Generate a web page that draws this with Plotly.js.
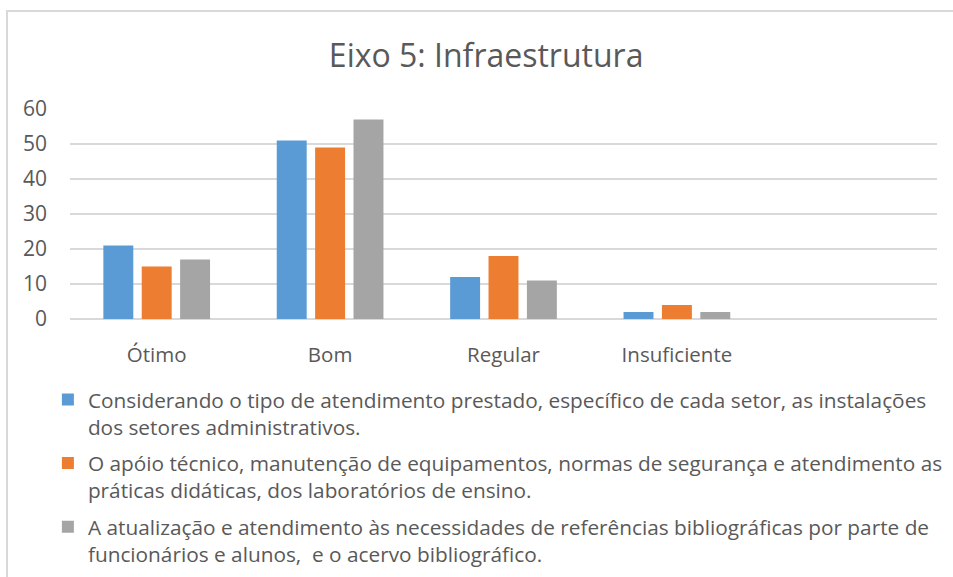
<!DOCTYPE html>
<html>
<head>
<meta charset="utf-8">
<script src="https://cdn.plot.ly/plotly-3.0.1.min.js"></script>
<style>
  html, body { margin: 0; padding: 0; background: #fff; }
  #frame { position: absolute; left: 6px; top: 10px; width: 960px; height: 580px;
           border-top: 2px solid #d9d9d9; border-left: 2px solid #d9d9d9; }
  #chart { position: absolute; left: 0; top: 0; width: 953px; height: 577px; }
</style>
</head>
<body>
<div id="frame"></div>
<div id="chart"></div>
<script>
const categories = ["Ótimo", "Bom", "Regular", "Insuficiente"];
const seriesNames = [
  "Considerando o tipo de atendimento prestado, específico de cada setor, as instalações<br>dos setores administrativos.",
  "O apóio técnico, manutenção de equipamentos, normas de segurança e atendimento as<br>práticas didáticas, dos laboratórios de ensino.",
  "A atualização e atendimento às necessidades de referências bibliográficas por parte de<br>funcionários e alunos,  e o acervo bibliográfico."
];
const setoresAdministrativos = [21, 51, 12, 2];
const laboratorios = [15, 49, 18, 4];
const acervo = [17, 57, 11, 2];
const colors = ["#5B9BD5", "#ED7D31", "#A5A5A5"];
const yTicks = [0, 10, 20, 30, 40, 50, 60];

const values = [setoresAdministrativos, laboratorios, acervo];
const font = "'Open Sans', Lato, sans-serif";

const traces = values.map((v, i) => ({
  type: "bar",
  x: categories,
  y: v,
  name: seriesNames[i],
  legendgroup: "g" + i,
  marker: { color: colors[i], line: { width: 0 } },
  hoverinfo: "x+y"
}));

const layout = {
  width: 953, height: 577,
  paper_bgcolor: "rgba(0,0,0,0)",
  plot_bgcolor: "rgba(0,0,0,0)",
  margin: { l: 70, r: 16, t: 109, b: 258, autoexpand: false },
  font: { family: font, color: "#595959", size: 19 },
  title: { text: "Eixo 5: Infraestrutura", font: { family: font, size: 32, color: "#595959" },
           xref: "paper", x: 0.48, xanchor: "center", yref: "container", y: 0.903, yanchor: "middle" },
  barmode: "group",
  bargap: 0.336,
  bargroupgap: 0.22,
  xaxis: {
    type: "category",
    categoryorder: "array",
    categoryarray: categories,
    range: [-0.5, 4.5],
    showgrid: false, zeroline: false, showline: false,
    ticks: "", ticklabelstandoff: 21, tickangle: 0, automargin: false,
    tickfont: { family: font, size: 20.5, color: "#595959" }
  },
  yaxis: {
    range: [0, 60],
    tickvals: yTicks,
    showgrid: true, gridcolor: "#d9d9d9", gridwidth: 1.5,
    zeroline: true, zerolinecolor: "#d9d9d9", zerolinewidth: 1.5,
    showline: false, ticks: "", ticklabelstandoff: 22, automargin: false,
    tickfont: { family: font, size: 21, color: "#595959" }
  },
  showlegend: true,
  legend: {
    orientation: "v",
    xref: "paper", yref: "paper",
    x: -0.0255, xanchor: "left",
    y: -0.288, yanchor: "top",
    valign: "top",
    traceorder: "grouped",
    tracegroupgap: 6.5,
    itemwidth: 30,
    font: { family: font, size: 20.8, color: "#595959" },
    bgcolor: "rgba(0,0,0,0)"
  }
};

Plotly.newPlot("chart", traces, layout, { displayModeBar: false, staticPlot: true });
</script>
</body>
</html>
